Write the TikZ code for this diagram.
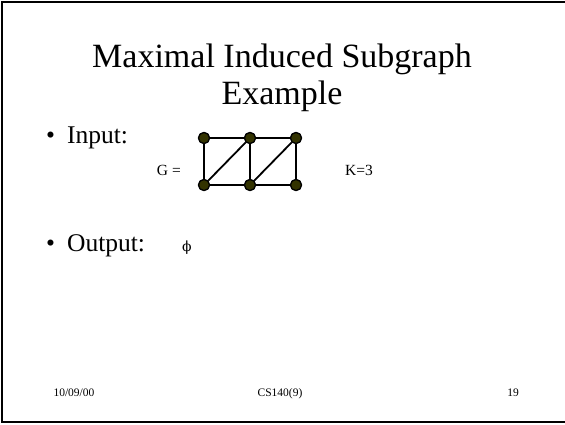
\documentclass[tikz,border=0pt]{standalone}
\usepackage{fontspec}
\setmainfont{Liberation Serif}
\newfontfamily\symbfont{DejaVu Serif}
\usetikzlibrary{shapes,arrows,positioning}
\definecolor{vertexfill}{RGB}{51,51,0}

\begin{document}
\begin{tikzpicture}[x=1pt,y=-1pt,
  vertex/.style={circle,draw,fill=vertexfill,line width=1.2pt,minimum size=11pt,inner sep=0pt},
  edge/.style={line width=1.8pt},
  footer/.style={anchor=base,font=\fontsize{11.5}{13}\selectfont}]
\useasboundingbox (0,0) rectangle (565,424);
% slide frame, right side off the page
\draw[line width=2.5pt] (600,2) -- (2,2) -- (2,422) -- (600,422);
% title
\node[anchor=base] (title) at (282,67) {\fontsize{34}{40}\selectfont Maximal Induced Subgraph};
\node[anchor=base] (title2) at (282,104) {\fontsize{34}{40}\selectfont Example};
% bullets
\node[anchor=base west,inner sep=0pt] (input) at (46,143) {\fontsize{25.5}{30}\selectfont\textbullet\hspace{12pt}Input:};
\node[anchor=base west,inner sep=0pt] (output) at (46,251) {\fontsize{25.5}{30}\selectfont\textbullet\hspace{12pt}Output:};
\node (empty) at (187,248) {\fontsize{14}{17}\selectfont\symbfont ϕ};
% graph G
\node[anchor=base east,inner sep=0pt] (geq) at (181,175) {\fontsize{15.5}{18}\selectfont G =};
\node[anchor=base west,inner sep=0pt] (k) at (345,175) {\fontsize{15.5}{18}\selectfont K=3};
\node[vertex] (a) at (204,138) {};
\node[vertex] (b) at (250,138) {};
\node[vertex] (c) at (296,138) {};
\node[vertex] (d) at (204,185) {};
\node[vertex] (e) at (250,185) {};
\node[vertex] (f) at (296,185) {};
\draw[edge] (a) -- (b) -- (c) -- (f) -- (e) -- (d) -- (a);
\draw[edge] (b) -- (e);
\draw[edge] (d) -- (b);
\draw[edge] (e) -- (c);
% redraw vertices over edge ends
\foreach \v in {a,b,c,d,e,f}
  \node[vertex] at (\v) {};
% footer
\node[footer,anchor=base west] (date) at (50,396) {10/09/00};
\node[footer] (course) at (280,396) {CS140(9)};
\node[footer] (page) at (513,396) {19};
\end{tikzpicture}
\end{document}
